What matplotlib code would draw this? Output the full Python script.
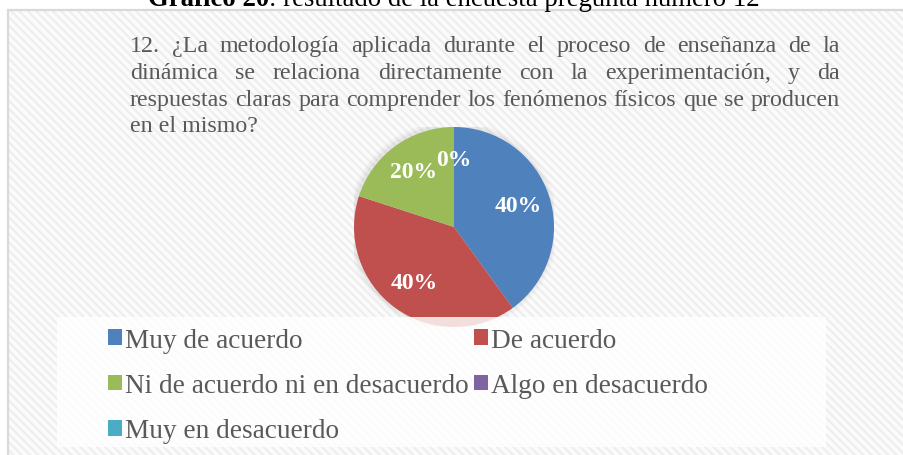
import matplotlib
matplotlib.use("Agg")
import matplotlib.pyplot as plt
from matplotlib.patches import Rectangle, Patch, Circle

plt.rcParams['font.family'] = ['Liberation Serif', 'DejaVu Serif']
plt.rcParams['hatch.linewidth'] = 1.6

categories = ['Muy de acuerdo', 'De acuerdo', 'Ni de acuerdo ni en desacuerdo',
              'Algo en desacuerdo', 'Muy en desacuerdo']
values = [40, 40, 20, 0, 0]
colors = ['#4F81BD', '#C0504D', '#9BBB59', '#8064A2', '#4BACC6']

question_lines = [
    '12. ¿La metodología aplicada durante el proceso de enseñanza de la',
    'dinámica se relaciona directamente con la experimentación, y da',
    'respuestas claras para comprender los fenómenos físicos que se producen',
    'en el mismo?',
]

W, H = 904, 456
fig = plt.figure(figsize=(W / 100, H / 100), dpi=100)
fig.patch.set_facecolor('white')


def fx(px):
    return px / W


def fy(py):
    return 1 - py / H


# striped chart area
fig.patches.append(Rectangle((fx(8), fy(470)), fx(920), (470 - 11) / H,
                             transform=fig.transFigure, facecolor='#fbfbfb',
                             edgecolor='#eeeeee', hatch='\\\\\\\\', lw=0, zorder=-2))
fig.patches.append(Rectangle((fx(8), fy(470)), fx(920), (470 - 11) / H,
                             transform=fig.transFigure, facecolor='none',
                             edgecolor='#d9d9d9', lw=1.6, zorder=-1))

renderer = fig.canvas.get_renderer()

# title (cut at top, as in the source document)
tb = fig.text(0, 0, 'Gráfico 20', fontsize=19.3, fontweight='bold', va='baseline', color='black')
bw = tb.get_window_extent(renderer).width
left = 148
tb.set_position((fx(left), fy(6)))
fig.text(fx(left) + bw / W, fy(6), ': resultado de la encuesta pregunta número 12',
         fontsize=19.3, va='baseline', color='black')

# justified question text
x0, x1 = 130, 840
base_y = [52, 79, 106, 132]
qsize = 17.3
for i, line in enumerate(question_lines):
    words = line.split(' ')
    if i == len(question_lines) - 1:
        fig.text(fx(x0), fy(base_y[i]), line, fontsize=qsize, color='#595959', va='baseline')
        continue
    arts = [fig.text(0, 0, w, fontsize=qsize, color='#595959', va='baseline') for w in words]
    widths = [a.get_window_extent(renderer).width for a in arts]
    gap = (x1 - x0 - sum(widths)) / (len(words) - 1)
    x = x0
    for a, w in zip(arts, widths):
        a.set_position((fx(x), fy(base_y[i])))
        x += w + gap

# pie
ax = fig.add_axes([fx(354), fy(328), fx(200), 200 / H])
for r, a in [(1.06, 0.05), (1.04, 0.07), (1.02, 0.1)]:
    ax.add_patch(Circle((-0.01, 0.01), r, color='#9a9a9a', alpha=a, lw=0))
wedges, _, autotexts = ax.pie(values, colors=colors, startangle=90, counterclock=False,
                              autopct='%1.0f%%', pctdistance=0.68, radius=1.0,
                              wedgeprops=dict(linewidth=0))
for t in autotexts:
    t.set_color('white')
    t.set_fontweight('bold')
    t.set_fontsize(17)
autotexts[4].set_visible(False)
ax.set_xlim(-1, 1)
ax.set_ylim(-1, 1)
ax.set_aspect('equal')
ax.axis('off')

# legend box (semi-transparent white over pie bottom)
fig.patches.append(Rectangle((fx(57), fy(448)), fx(826 - 57), (448 - 318) / H,
                             transform=fig.transFigure, facecolor='white',
                             edgecolor='none', alpha=0.82, zorder=3))

handles = [Patch(facecolor=c, edgecolor='none') for c in colors]
order = [0, 2, 4, 1, 3]
fig.legend([handles[i] for i in order], [categories[i] for i in order],
           ncol=2, loc='upper left', bbox_to_anchor=(fx(108), fy(329)),
           frameon=False, fontsize=19.6, labelcolor='#595959',
           handlelength=0.52, handleheight=0.52, handletextpad=0.1,
           columnspacing=0.2, labelspacing=0.74, borderaxespad=0, borderpad=0)

fig.savefig('out.png', dpi=100)
